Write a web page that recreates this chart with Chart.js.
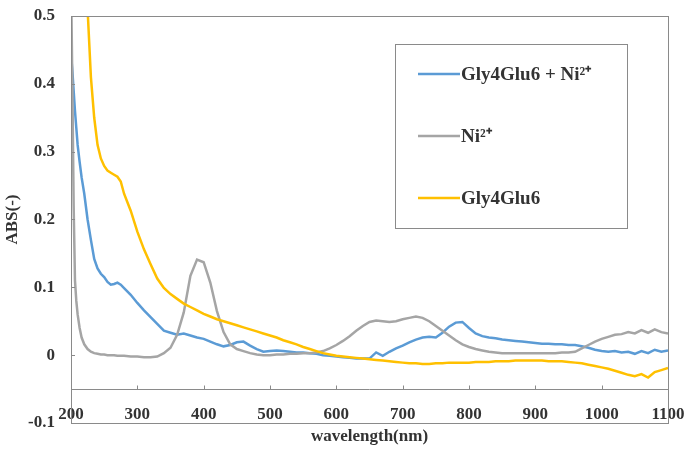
<!DOCTYPE html>
<html><head><meta charset="utf-8">
<script src="https://cdn.jsdelivr.net/npm/chart.js@4.4.0/dist/chart.umd.min.js"></script>
<style>html,body{margin:0;padding:0;background:#fff}</style>
</head><body>
<canvas id="c" width="684" height="450" style="display:block;width:684px;height:450px"></canvas>
<script>
// ---- data ----
const wavelengths = [
  200,202,204,206,208,210,213,216,220,225,230,235,240,245,250,255,260,265,270,275,280,
  290,300,310,320,330,340,350,360,370,380,
  390,400,410,420,430,440,450,460,470,480,
  490,500,510,520,530,540,550,560,570,580,
  590,600,610,620,630,640,650,660,670,680,
  690,700,710,720,730,740,750,760,770,780,
  790,800,810,820,830,840,850,860,870,880,
  890,900,910,920,930,940,950,960,970,980,
  990,1000,1010,1020,1030,1040,1050,1060,1070,1080,
  1090,1100
];
const gly4glu6Ni = [
  0.445,0.42,0.39,0.36,0.335,0.31,0.285,0.262,0.238,0.20,0.17,0.142,0.128,0.12,0.115,0.108,0.104,0.105,0.107,0.104,0.099,
  0.089,0.077,0.066,0.056,0.046,0.036,0.033,0.030,0.032,0.029,
  0.026,0.024,0.020,0.016,0.013,0.015,0.019,0.020,0.014,0.009,
  0.005,0.006,0.007,0.006,0.005,0.004,0.004,0.003,0.002,0.000,
  -0.001,-0.002,-0.003,-0.004,-0.005,-0.005,-0.005,0.004,-0.001,0.005,
  0.010,0.014,0.019,0.023,0.026,0.027,0.026,0.033,0.042,0.048,
  0.049,0.040,0.032,0.028,0.026,0.025,0.023,0.022,0.021,0.020,
  0.019,0.018,0.017,0.017,0.016,0.016,0.015,0.015,0.013,0.011,
  0.008,0.006,0.005,0.006,0.004,0.005,0.002,0.006,0.003,0.008,
  0.005,0.007
];
const niOnly = [
  0.56,0.40,0.22,0.11,0.08,0.06,0.04,0.026,0.016,0.009,0.005,0.003,0.002,0.001,0.001,0.000,0.000,0.000,-0.001,-0.001,-0.001,
  -0.002,-0.002,-0.003,-0.003,-0.002,0.003,0.011,0.030,0.063,0.117,
  0.141,0.137,0.107,0.065,0.034,0.016,0.009,0.006,0.003,0.001,
  0.000,0.000,0.001,0.001,0.002,0.002,0.003,0.003,0.004,0.006,
  0.010,0.015,0.021,0.028,0.036,0.043,0.049,0.051,0.050,0.049,
  0.050,0.053,0.055,0.057,0.055,0.050,0.043,0.036,0.029,0.022,
  0.016,0.012,0.009,0.007,0.005,0.004,0.003,0.003,0.003,0.003,
  0.003,0.003,0.003,0.003,0.003,0.004,0.004,0.005,0.010,0.015,
  0.020,0.024,0.027,0.030,0.031,0.034,0.032,0.037,0.033,0.038,
  0.034,0.032
];
const gly4glu6 = [
  1.2,1.1,1.0,0.92,0.85,0.78,0.70,0.63,0.57,0.51,0.41,0.35,0.31,0.29,0.279,0.272,0.269,0.266,0.263,0.256,0.238,
  0.213,0.182,0.156,0.134,0.113,0.099,0.090,0.083,0.076,0.071,
  0.066,0.061,0.057,0.053,0.050,0.047,0.044,0.041,0.038,0.035,
  0.032,0.029,0.026,0.022,0.019,0.016,0.012,0.009,0.006,0.003,
  0.001,-0.001,-0.002,-0.003,-0.004,-0.005,-0.006,-0.007,-0.008,-0.009,
  -0.010,-0.011,-0.012,-0.012,-0.013,-0.013,-0.012,-0.012,-0.011,-0.011,
  -0.011,-0.011,-0.010,-0.010,-0.010,-0.009,-0.009,-0.009,-0.008,-0.008,
  -0.008,-0.008,-0.008,-0.009,-0.009,-0.009,-0.010,-0.011,-0.012,-0.014,
  -0.016,-0.018,-0.020,-0.023,-0.026,-0.029,-0.031,-0.028,-0.033,-0.025,
  -0.022,-0.019
];
const seriesLabels = ['Gly4Glu6 + Ni²⁺', 'Ni²⁺', 'Gly4Glu6'];
const xTicks = [200,300,400,500,600,700,800,900,1000,1100];
const yTicks = [-0.1,0,0.1,0.2,0.3,0.4,0.5];
const xAxisCrossesAt = -0.05;
const xTitle = 'wavelength(nm)';
const yTitle = 'ABS(-)';

// ---- styling ----
const colors = ['#5B9BD5', '#A5A5A5', '#FFC000'];
const textColor = '#333333';
const frameColor = '#8a8a8a';
const serif = "'Liberation Serif', serif";
const axisFont = {family: serif, size: 17, weight: 'bold'};

const toPts = ys => wavelengths.map((x, i) => ({x, y: ys[i]}));

const frame = {
  id: 'frame',
  afterDatasetsDraw(c) {
    const {ctx, chartArea: a, scales: {x, y}} = c;
    ctx.save();
    ctx.strokeStyle = frameColor;
    ctx.lineWidth = 1;
    ctx.strokeRect(Math.round(a.left) + 0.5, Math.round(a.top) + 0.5,
                   Math.round(a.right - a.left), Math.round(a.bottom - a.top));
    const ay = Math.round(y.getPixelForValue(xAxisCrossesAt)) + 0.5;
    ctx.beginPath();
    ctx.moveTo(a.left, ay); ctx.lineTo(a.right, ay);
    xTicks.forEach(v => {
      const px = Math.round(x.getPixelForValue(v)) + 0.5;
      ctx.moveTo(px, ay); ctx.lineTo(px, ay - 4);
    });
    yTicks.forEach(v => {
      const py = Math.round(y.getPixelForValue(v)) + 0.5;
      ctx.moveTo(a.left, py); ctx.lineTo(a.left + 4, py);
    });
    ctx.stroke();
    ctx.restore();
  },
  afterDraw(c) {
    const ctx = c.ctx;
    ctx.save();
    ctx.fillStyle = '#fff';
    ctx.fillRect(395.5, 44.5, 232, 184);
    ctx.strokeStyle = frameColor;
    ctx.lineWidth = 1;
    ctx.strokeRect(395.5, 44.5, 232, 184);
    const rows = [74, 136, 198];
    ctx.font = 'bold 19px ' + serif;
    ctx.textBaseline = 'middle';
    ctx.textAlign = 'left';
    c.data.datasets.forEach((ds, i) => {
      ctx.strokeStyle = ds.borderColor;
      ctx.lineWidth = 2.5;
      ctx.beginPath();
      ctx.moveTo(418, rows[i]); ctx.lineTo(460, rows[i]);
      ctx.stroke();
      ctx.fillStyle = textColor;
      ctx.fillText(ds.label, 461, rows[i] + 1);
    });
    ctx.restore();
  }
};

new Chart(document.getElementById('c'), {
  type: 'line',
  data: {
    datasets: [
      {label: seriesLabels[0], data: toPts(gly4glu6Ni), borderColor: colors[0], order: 3},
      {label: seriesLabels[1], data: toPts(niOnly), borderColor: colors[1], order: 2},
      {label: seriesLabels[2], data: toPts(gly4glu6), borderColor: colors[2], order: 1}
    ]
  },
  options: {
    responsive: false,
    animation: false,
    devicePixelRatio: 1,
    layout: {padding: {top: 16, right: 16, left: 0, bottom: 0}},
    elements: {point: {radius: 0}, line: {borderWidth: 2.5, tension: 0, fill: false}},
    datasets: {line: {clip: 0}},
    plugins: {legend: {display: false}, tooltip: {enabled: false}},
    scales: {
      x: {
        type: 'linear', min: 200, max: 1100,
        afterBuildTicks: s => { s.ticks = xTicks.map(v => ({value: v})); },
        ticks: {font: axisFont, color: textColor, padding: -2, mirror: true, maxRotation: 0, autoSkip: false,
                callback: v => String(v)},
        grid: {display: false, drawTicks: false},
        border: {display: false},
        title: {display: true, text: xTitle, font: axisFont, color: textColor, padding: {top: 0, bottom: 3}},
        afterFit: s => { s.height = 27; s.paddingLeft = 0; s.paddingRight = 0; }
      },
      y: {
        min: -0.1, max: 0.5,
        afterBuildTicks: s => { s.ticks = yTicks.map(v => ({value: v})); },
        ticks: {font: axisFont, color: textColor, padding: 16,
                callback: v => Math.abs(v) < 1e-9 ? '0' : v.toFixed(1)},
        grid: {display: false, drawTicks: false},
        border: {display: false},
        title: {display: true, text: yTitle, font: axisFont, color: textColor, padding: {top: 2, bottom: 0}},
        afterFit: s => { s.width = 71; s.paddingTop = 0; s.paddingBottom = 0; }
      }
    }
  },
  plugins: [frame]
});
</script>
</body></html>
